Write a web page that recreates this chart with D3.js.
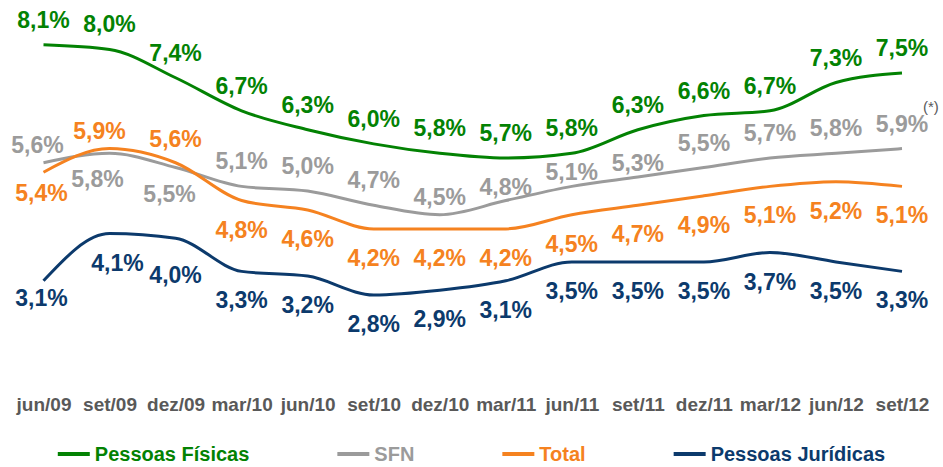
<!DOCTYPE html>
<html>
<head>
<meta charset="utf-8">
<script src="https://cdn.jsdelivr.net/npm/d3@7"></script>
<style>
	body { margin: 0; background: #fff; }
	text { font-family: "Liberation Sans", Arial, sans-serif; }
</style>
</head>
<body>
<div id="chart-area"></div>
<script>
var months = ["jun/09", "set/09", "dez/09", "mar/10", "jun/10", "set/10", "dez/10", "mar/11", "jun/11", "set/11", "dez/11", "mar/12", "jun/12", "set/12"];

var pessoasFisicas = [8.1, 8.0, 7.4, 6.7, 6.3, 6.0, 5.8, 5.7, 5.8, 6.3, 6.6, 6.7, 7.3, 7.5];
var sfn = [5.6, 5.8, 5.5, 5.1, 5.0, 4.7, 4.5, 4.8, 5.1, 5.3, 5.5, 5.7, 5.8, 5.9];
var total = [5.4, 5.9, 5.6, 4.8, 4.6, 4.2, 4.2, 4.2, 4.5, 4.7, 4.9, 5.1, 5.2, 5.1];
var pessoasJuridicas = [3.1, 4.1, 4.0, 3.3, 3.2, 2.8, 2.9, 3.1, 3.5, 3.5, 3.5, 3.7, 3.5, 3.3];

var seriesNames = ["Pessoas Físicas", "SFN", "Total", "Pessoas Jurídicas"];

var width = 943;
var height = 467;

var series = [
	{name: seriesNames[0], values: pessoasFisicas, color: "#038203", dy: -25},
	{name: seriesNames[1], values: sfn, color: "#9b9b9b", dy: -25},
	{name: seriesNames[2], values: total, color: "#f58220", dy: 29},
	{name: seriesNames[3], values: pessoasJuridicas, color: "#0c3a6c", dy: 29}
];

// hand placed labels in the original (series index -> point index -> [dx, dy])
var nudges = {
	1: {0: [-6, -18], 1: [-12, 26], 2: [-6, 26], 6: [0, -18], 7: [0, -14], 8: [0, -14], 9: [0, -14]},
	2: {0: [-2, 21], 1: [-10, -18], 2: [0, -24]},
	3: {0: [-2, 17], 1: [8, 29], 2: [0, 37]}
};

var svg = d3.select("#chart-area")
	.append("svg")
	.attr("width", width)
	.attr("height", height);

var x = d3.scalePoint()
	.domain(months)
	.range([43.5, 902]);

var y = d3.scaleLinear()
	.domain([2.8, 8.1])
	.range([295, 44.7]);

var line = d3.line()
	.x((d, i) => { return x(months[i]); })
	.y((d) => { return y(d); })
	.curve(d3.curveMonotoneX);

series.forEach((s) => {
	svg.append("path")
		.attr("d", line(s.values))
		.attr("fill", "none")
		.attr("stroke", s.color)
		.attr("stroke-width", 3);
});

series.forEach((s, si) => {
	svg.append("g")
		.selectAll("text")
		.data(s.values)
		.enter()
		.append("text")
		.attr("x", (d, i) => {
			var n = nudges[si] && nudges[si][i];
			return x(months[i]) + (n ? n[0] : 0);
		})
		.attr("y", (d, i) => {
			var n = nudges[si] && nudges[si][i];
			return y(d) + (n ? n[1] : s.dy);
		})
		.attr("dy", "0.35em")
		.attr("text-anchor", "middle")
		.attr("font-size", "23px")
		.attr("font-weight", "bold")
		.attr("fill", s.color)
		.text((d) => { return d3.format(".1f")(d).replace(".", ",") + "%"; });
});

// footnote mark next to the last SFN label
var lastSfn = sfn.length - 1;
svg.append("text")
	.attr("x", x(months[lastSfn]) + 21)
	.attr("y", y(sfn[lastSfn]) - 42)
	.attr("dy", "0.35em")
	.attr("font-size", "15px")
	.attr("fill", "#595959")
	.text("(*)");

var xAxis = d3.axisBottom(x)
	.tickSize(0)
	.tickPadding(0);

var xAxisGroup = svg.append("g")
	.attr("transform", "translate(0, 397.5)")
	.call(xAxis);

xAxisGroup.select(".domain").remove();
xAxisGroup.selectAll("text")
	.attr("font-size", "19px")
	.attr("font-weight", "bold")
	.attr("font-family", "'Liberation Sans', Arial, sans-serif")
	.attr("fill", "#595959");

// legend, centred as one row
var legend = svg.append("g");
var lx = 0;
series.forEach((s) => {
	var item = legend.append("g")
		.attr("transform", "translate(" + lx + ", 0)");

	item.append("line")
		.attr("x1", 0)
		.attr("x2", 32)
		.attr("y1", 454)
		.attr("y2", 454)
		.attr("stroke", s.color)
		.attr("stroke-width", 4);

	var label = item.append("text")
		.attr("x", 37)
		.attr("y", 461)
		.attr("font-size", "20px")
		.attr("font-weight", "bold")
		.attr("fill", s.color)
		.text(s.name);

	lx += 37 + label.node().getComputedTextLength() + 88;
});
var legendWidth = lx - 88;
legend.attr("transform", "translate(" + ((width - legendWidth) / 2) + ", 0)");
</script>
</body>
</html>
